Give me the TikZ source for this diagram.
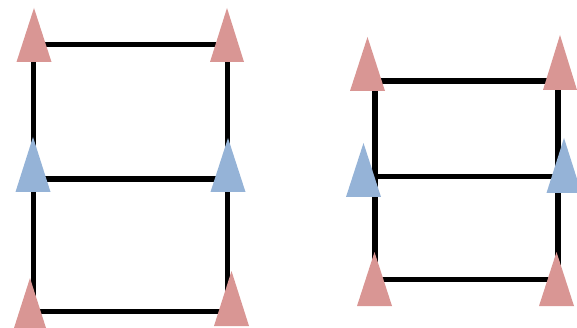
\documentclass[tikz,border=0pt]{standalone}
\definecolor{markred}{HTML}{D99694}
\definecolor{markblue}{HTML}{95B3D7}
\tikzset{
  rail/.style={draw=black, line width=5.4pt, line join=miter},
  markred/.style={fill=markred},
  markblue/.style={fill=markblue},
}
% triangle marker: apex x, apex y, base y, half base width, style
\newcommand\marker[5]{\fill[#5] (#1,#2) -- (#1+#4,#3) -- (#1-#4,#3) -- cycle;}
\begin{document}
\begin{tikzpicture}[x=1pt,y=-1pt]
\useasboundingbox (0,0) rectangle (577,328);
\clip (0,0) rectangle (577,328);
% left ladder
\coordinate (a1) at (33.5,44.7);
\coordinate (a2) at (227.5,44.7);
\coordinate (a3) at (33.5,179);
\coordinate (a4) at (227.5,179);
\coordinate (a5) at (33.5,311.5);
\coordinate (a6) at (227.5,311.5);
\draw[rail] (a1) -- (a2) -- (a6) -- (a5) -- cycle;
\draw[rail] (a3) -- (a4);
% right ladder
\coordinate (b1) at (375,81);
\coordinate (b2) at (558,81);
\coordinate (b3) at (375,176.5);
\coordinate (b4) at (558,176.5);
\coordinate (b5) at (375,279.5);
\coordinate (b6) at (558,279.5);
\draw[rail] (b1) -- (b2) -- (b6) -- (b5) -- cycle;
\draw[rail] (b3) -- (b4);
% markers, left ladder
\marker{34}{8}{62}{17.5}{markred}
\marker{227}{8}{62}{17}{markred}
\marker{33}{137}{192}{17.5}{markblue}
\marker{228}{138}{192}{17.5}{markblue}
\marker{30}{278}{328}{16}{markred}
\marker{231.5}{271}{326}{17.5}{markred}
% markers, right ladder
\marker{367.5}{37}{91}{17.5}{markred}
\marker{560}{35}{90}{17}{markred}
\marker{363.5}{143}{197}{17.5}{markblue}
\marker{564}{138}{193}{17.5}{markblue}
\marker{374.5}{252}{306}{17.5}{markred}
\marker{556.5}{252}{306}{17.5}{markred}
\end{tikzpicture}
\end{document}
